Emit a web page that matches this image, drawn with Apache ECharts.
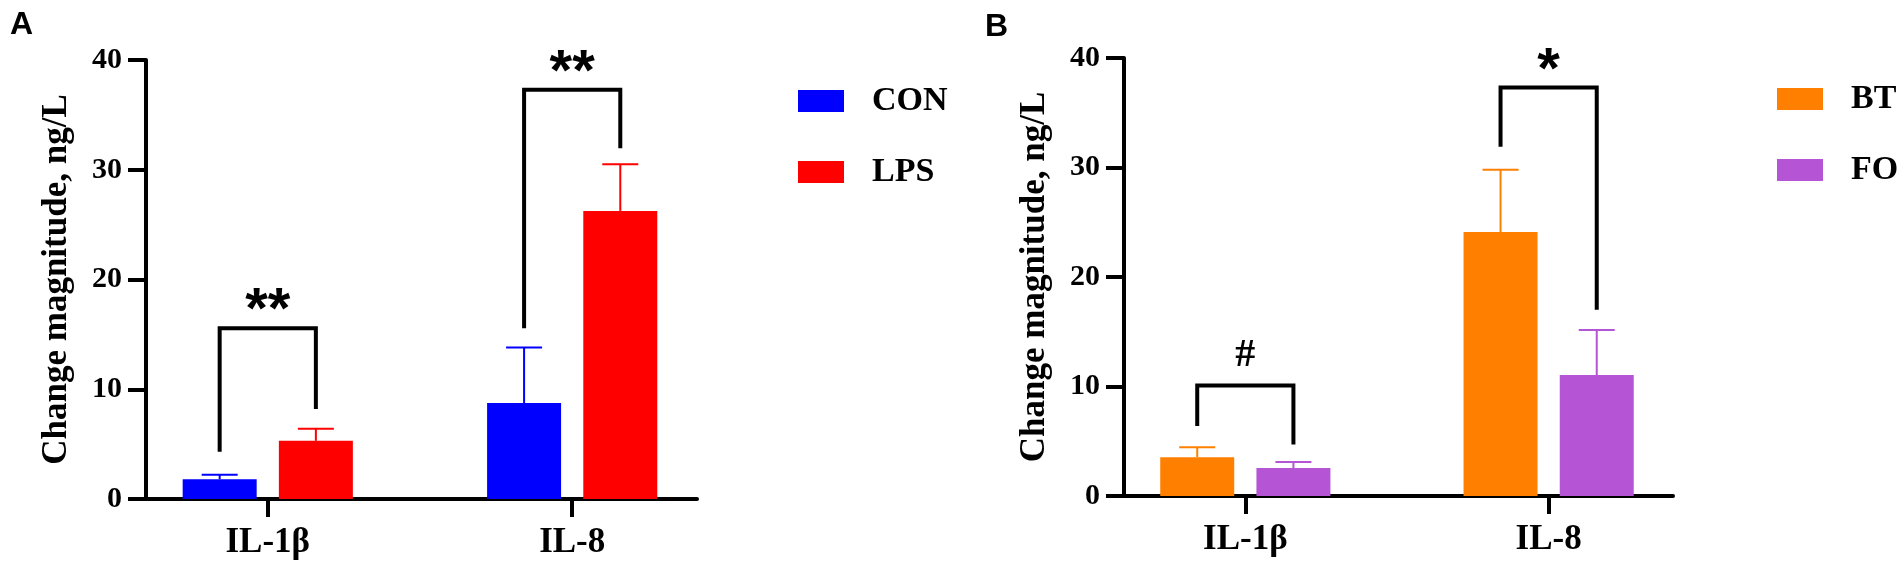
<!DOCTYPE html>
<html>
<head>
<meta charset="utf-8">
<script src="https://cdn.jsdelivr.net/npm/echarts@6/dist/echarts.min.js"></script>
<style>
  html, body { margin: 0; padding: 0; background: #fff; }
  #chart { width: 1902px; height: 571px; }
</style>
</head>
<body>
<div id="chart"></div>
<script>
// 数据
const categories = ['IL-1β', 'IL-8'];
const yTicks = [0, 10, 20, 30, 40];

// 图A
const conMean = [1.8, 8.75];
const conErr = [0.4, 5.05];
const lpsMean = [5.3, 26.25];
const lpsErr = [1.1, 4.25];
// 显著性括号: [类别, 顶部, 左腿底, 右腿底]
const bracketsA = [[0, 15.55, 4.3, 8.2], [1, 37.3, 15.55, 31.95]];
const marksA = ['**', '**'];

// 图B
const btMean = [3.55, 24.1];
const btErr = [0.9, 5.7];
const foMean = [2.55, 11.05];
const foErr = [0.55, 4.1];
const bracketsB = [[0, 10.1, 6.4, 4.7], [1, 37.3, 31.9, 17.0]];
const marksB = ['#', '*'];

document.addEventListener('DOMContentLoaded', function() {
    const chart = echarts.init(document.getElementById('chart'));

    const SERIF = 'Liberation Serif';
    const BAR_W = 74;
    const BAR_GAP = 0.3;
    const OFF = BAR_W * (1 + BAR_GAP) / 2;

    function xAxisOf(idx) {
        return {
            gridIndex: idx,
            type: 'value',
            min: -0.4,
            max: 1.41,
            axisLine: { show: true, onZero: false, lineStyle: { color: '#000', width: 4 } },
            axisTick: { show: true, customValues: [0, 1], length: 18, lineStyle: { color: '#000', width: 4 } },
            axisLabel: {
                customValues: [0, 1],
                formatter: function(v) { return categories[Math.round(v)]; },
                fontSize: 35, fontWeight: 'bold', fontFamily: SERIF, color: '#000', margin: 26
            },
            splitLine: { show: false }
        };
    }

    function yAxisOf(idx) {
        return {
            gridIndex: idx,
            type: 'value',
            min: yTicks[0],
            max: yTicks[yTicks.length - 1],
            interval: 10,
            name: 'Change magnitude, ng/L',
            nameLocation: 'middle',
            nameRotate: 90,
            nameGap: 72,
            nameTextStyle: { fontSize: 35, fontWeight: 'bold', fontFamily: SERIF, color: '#000' },
            axisLine: { show: true, onZero: false, lineStyle: { color: '#000', width: 4 } },
            axisTick: { show: true, length: 18, lineStyle: { color: '#000', width: 4 } },
            axisLabel: { fontSize: 30, fontWeight: 'bold', fontFamily: SERIF, color: '#000', margin: 24 },
            splitLine: { show: false }
        };
    }

    function barSeries(name, idx, mean, color) {
        return {
            name: name,
            type: 'bar',
            xAxisIndex: idx,
            yAxisIndex: idx,
            barWidth: BAR_W,
            barGap: (BAR_GAP * 100) + '%',
            data: mean.map(function(v, i) { return [i, v]; }),
            itemStyle: { color: color },
            silent: true
        };
    }

    // 误差线
    function errSeries(idx, mean, err, color, side) {
        return {
            type: 'custom',
            xAxisIndex: idx,
            yAxisIndex: idx,
            z: 3,
            silent: true,
            data: mean.map(function(v, i) { return [i, v, v + err[i]]; }),
            renderItem: function(params, api) {
                const base = api.coord([api.value(0), api.value(1)]);
                const top = api.coord([api.value(0), api.value(2)]);
                const x = base[0] + side * OFF;
                const st = { stroke: color, lineWidth: 2 };
                return {
                    type: 'group',
                    children: [
                        { type: 'line', shape: { x1: x, y1: base[1], x2: x, y2: top[1] }, style: st },
                        { type: 'line', shape: { x1: x - 18, y1: top[1], x2: x + 18, y2: top[1] }, style: st }
                    ]
                };
            }
        };
    }

    // 显著性括号
    function bracketSeries(idx, brackets, marks) {
        return {
            type: 'custom',
            xAxisIndex: idx,
            yAxisIndex: idx,
            z: 4,
            silent: true,
            clip: false,
            data: brackets,
            renderItem: function(params, api) {
                const c = api.value(0);
                const t = api.coord([c, api.value(1)]);
                const yl = api.coord([c, api.value(2)])[1];
                const yr = api.coord([c, api.value(3)])[1];
                const lx = t[0] - OFF, rx = t[0] + OFF;
                const mark = marks[params.dataIndex];
                const star = mark.indexOf('*') >= 0;
                return {
                    type: 'group',
                    children: [
                        {
                            type: 'polyline',
                            shape: { points: [[lx, yl], [lx, t[1]], [rx, t[1]], [rx, yr]] },
                            style: { stroke: '#000', lineWidth: 4, fill: null, lineJoin: 'miter' }
                        },
                        {
                            type: 'text',
                            x: t[0],
                            y: t[1] - (star ? 16 : 30),
                            style: {
                                text: mark,
                                fill: '#000',
                                fontSize: star ? 58 : 40,
                                fontWeight: 'bold',
                                fontFamily: star ? 'Liberation Sans' : SERIF,
                                align: 'center',
                                verticalAlign: 'middle'
                            }
                        }
                    ]
                };
            }
        };
    }

    function legendOf(left, top, names) {
        return {
            left: left,
            top: top,
            orient: 'vertical',
            data: names,
            icon: 'rect',
            itemWidth: 46,
            itemHeight: 22,
            itemGap: 37,
            selectedMode: false,
            textStyle: {
                fontSize: 34, fontWeight: 'bold', fontFamily: SERIF, color: '#000',
                lineHeight: 22, padding: [0, 0, 0, 23]
            }
        };
    }

    const option = {
        backgroundColor: '#fff',
        animation: false,
        title: [
            { text: 'A', left: 5, top: 4, textStyle: { fontSize: 32, fontWeight: 'bold', fontFamily: 'Liberation Sans', color: '#000' } },
            { text: 'B', left: 980, top: 6, textStyle: { fontSize: 32, fontWeight: 'bold', fontFamily: 'Liberation Sans', color: '#000' } }
        ],
        legend: [
            legendOf(793, 79, ['CON', 'LPS']),
            legendOf(1772, 77, ['BT', 'FO'])
        ],
        grid: [
            { left: 146, top: 60, width: 551, height: 439 },
            { left: 1124, top: 58, width: 549, height: 438 }
        ],
        xAxis: [xAxisOf(0), xAxisOf(1)],
        yAxis: [yAxisOf(0), yAxisOf(1)],
        series: [
            barSeries('CON', 0, conMean, '#0000FF'),
            barSeries('LPS', 0, lpsMean, '#FF0000'),
            errSeries(0, conMean, conErr, '#0000FF', -1),
            errSeries(0, lpsMean, lpsErr, '#FF0000', 1),
            bracketSeries(0, bracketsA, marksA),
            barSeries('BT', 1, btMean, '#FF8000'),
            barSeries('FO', 1, foMean, '#B555D5'),
            errSeries(1, btMean, btErr, '#FF8000', -1),
            errSeries(1, foMean, foErr, '#B555D5', 1),
            bracketSeries(1, bracketsB, marksB)
        ]
    };

    chart.setOption(option);

    window.addEventListener('resize', function() {
        chart.resize();
    });
});
</script>
</body>
</html>
